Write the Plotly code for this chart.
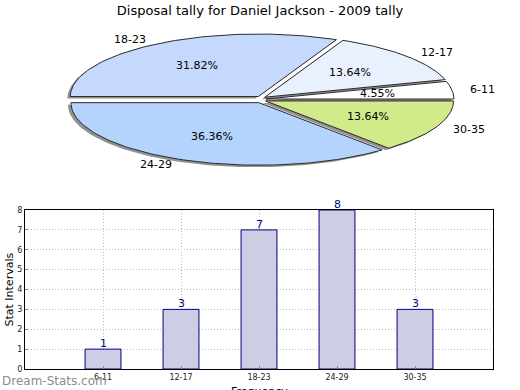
import numpy as np
import plotly.graph_objects as go

# ---------------- data ----------------
categories = ["6-11", "12-17", "18-23", "24-29", "30-35"]
counts = [1, 3, 7, 8, 3]
slice_colors = ["#FFFFFF", "#EAF1FE", "#C5D8FD", "#B4D4FD", "#D1EB8B"]
chart_title = "Disposal tally for Daniel Jackson - 2009 tally"
y_title = "Stat Intervals"
x_title = "Frequency"
watermark = "Dream-Stats.com"

FONT = "DejaVu Sans"
W, H = 520, 390

# ---------------- pie geometry (pixel space of the hidden pie axes) -------------
CX, CY = 261.0, 99.5
RX, RY = 188.0, 62.5
EX, EY = 5.0, 3.5          # explode offsets
SHX, SHY = -3.0, 2.0       # shadow offset
K_OUT, K_IN = 1.085, 0.60

fig = go.Figure()

total = float(sum(counts))
fracs = [c / total for c in counts]
cum = np.concatenate([[0.0], np.cumsum(fracs)])

slices = []
for i, cat in enumerate(categories):
    a0, a1 = 2 * np.pi * cum[i], 2 * np.pi * cum[i + 1]
    mid = 0.5 * (a0 + a1)
    ox = CX + EX * np.cos(mid)
    oy = CY - EY * np.sin(mid)
    t = np.linspace(a0, a1, 80)
    xs = np.concatenate([[ox], ox + RX * np.cos(t), [ox]])
    ys = np.concatenate([[oy], oy - RY * np.sin(t), [oy]])
    slices.append((cat, mid, ox, oy, xs, ys, slice_colors[i], fracs[i]))

# shadows
for cat, mid, ox, oy, xs, ys, col, fr in slices:
    fig.add_trace(go.Scatter(x=xs + SHX, y=ys + SHY, mode="lines", fill="toself",
                             fillcolor="rgba(110,110,110,0.75)", line=dict(width=0),
                             hoverinfo="skip", showlegend=False, xaxis="x", yaxis="y"))
# slices
for cat, mid, ox, oy, xs, ys, col, fr in slices:
    fig.add_trace(go.Scatter(x=xs, y=ys, mode="lines", fill="toself",
                             fillcolor=col, line=dict(color="#2a2a2a", width=1),
                             hoverinfo="skip", showlegend=False, xaxis="x", yaxis="y"))

annotations = []
for cat, mid, ox, oy, xs, ys, col, fr in slices:
    c, s = np.cos(mid), np.sin(mid)
    lx = ox + K_OUT * RX * c
    ly = oy - K_OUT * RY * s
    annotations.append(dict(x=lx, y=ly, xref="x", yref="y", text=cat, showarrow=False,
                            xanchor="left" if c > 0 else "right", yanchor="middle",
                            font=dict(family=FONT, size=11, color="black")))
    px = ox + K_IN * RX * c
    py = oy - K_IN * RY * s
    annotations.append(dict(x=px, y=py, xref="x", yref="y", text=f"{fr*100:.2f}%",
                            showarrow=False, xanchor="center", yanchor="middle",
                            font=dict(family=FONT, size=11, color="black")))

# ---------------- bar chart ----------------
fig.add_trace(go.Bar(x=categories, y=counts, width=0.46,
                     marker=dict(color="#CDCDE6", line=dict(color="#000080", width=1)),
                     showlegend=False, hoverinfo="skip",
                     xaxis="x2", yaxis="y2"))

for cat, v in zip(categories, counts):
    annotations.append(dict(x=cat, y=v, xref="x2", yref="y2", text=str(v), showarrow=False,
                            xanchor="center", yanchor="bottom", yshift=-3,
                            font=dict(family=FONT, size=11, color="#00008B")))

# axis titles
annotations.append(dict(x=(25 + 493) / 2 / W, y=1 - 383 / H, xref="paper", yref="paper",
                        text=x_title, showarrow=False, xanchor="center", yanchor="top",
                        font=dict(family=FONT, size=11, color="black")))
annotations.append(dict(x=9 / W, y=1 - 289.5 / H, xref="paper", yref="paper",
                        text=y_title, showarrow=False, xanchor="center", yanchor="middle",
                        textangle=-90, font=dict(family=FONT, size=11, color="black")))

annotations.append(dict(x=0.0, y=1 - 381 / H, xref="paper", yref="paper", text=watermark,
                        showarrow=False, xanchor="left", yanchor="middle",
                        font=dict(family=FONT, size=12, color="#8c8c8c")))

grid = dict(showgrid=True, gridcolor="#bdbdbd", griddash="1px,2px", gridwidth=1)

fig.update_layout(
    width=W, height=H, template="none",
    paper_bgcolor="white", plot_bgcolor="rgba(0,0,0,0)",
    margin=dict(l=0, r=0, t=0, b=0, pad=0),
    showlegend=False,
    title=dict(text=chart_title, x=0.5, xanchor="center", y=1 - 10 / H, yanchor="middle",
               yref="container", font=dict(family=FONT, size=13, color="black")),
    xaxis=dict(domain=[0, 1], range=[0, W], visible=False, fixedrange=True),
    yaxis=dict(domain=[0, 1], range=[H, 0], visible=False, fixedrange=True),
    xaxis2=dict(domain=[25 / W, 493 / W], anchor="y2", range=[-1, 5], type="category",
                showline=True, mirror=True, linecolor="black", linewidth=1,
                ticks="inside", ticklen=3, tickcolor="#888",
                tickfont=dict(family=FONT, size=8, color="#222"),
                automargin=False, zeroline=False, **grid),
    yaxis2=dict(domain=[1 - 369 / H, 1 - 210 / H], anchor="x2", range=[0, 8], dtick=1,
                showline=True, mirror=True, linecolor="black", linewidth=1,
                ticks="inside", ticklen=3, tickcolor="#888",
                tickfont=dict(family=FONT, size=8, color="#222"),
                automargin=False, zeroline=False, **grid),
    annotations=annotations,
    font=dict(family=FONT),
)

fig.write_html("out.html", config={"displayModeBar": False},
               post_script="document.body.style.margin='0';document.body.style.padding='0';")
